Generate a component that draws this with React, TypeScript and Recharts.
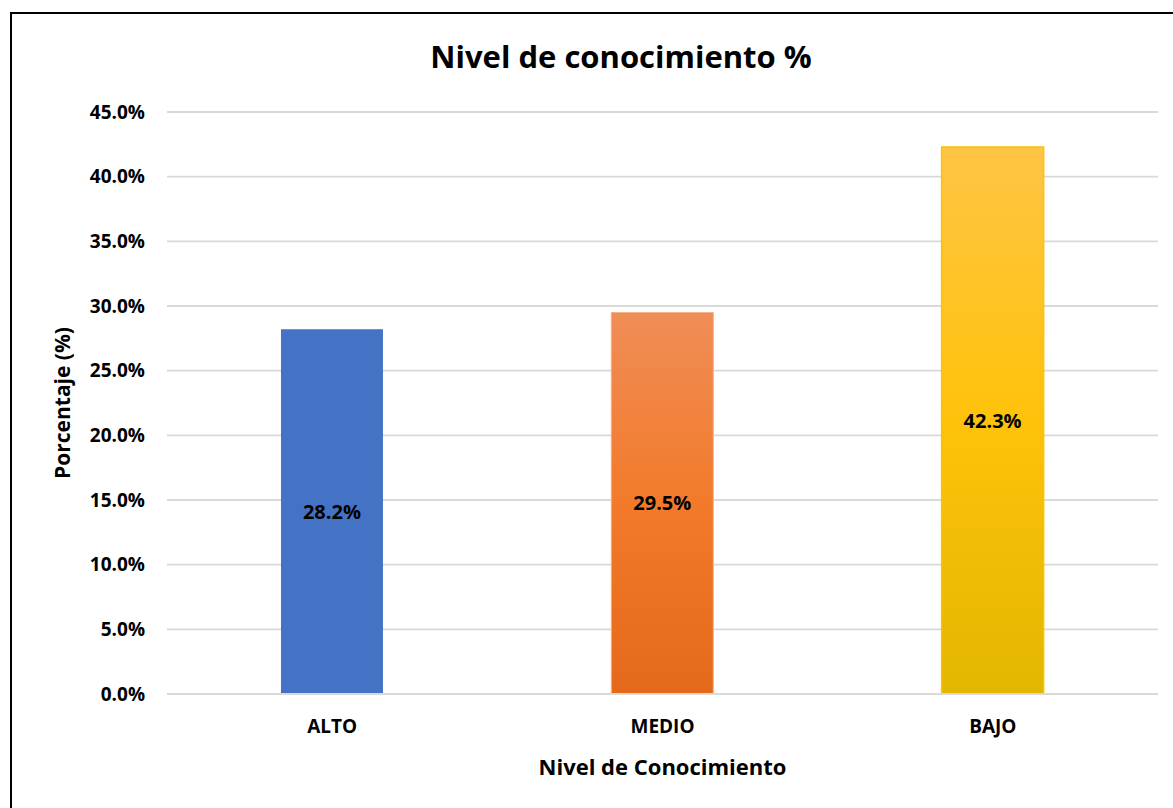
import { BarChart, Bar, XAxis, YAxis, CartesianGrid, Cell, LabelList, Label } from "recharts";

const categories = ["ALTO", "MEDIO", "BAJO"];
const percentages = [28.2, 29.5, 42.3];
const yTicks = [0, 5, 10, 15, 20, 25, 30, 35, 40, 45];

const data = categories.map((name, i) => ({ name, value: percentages[i] }));

const FONT = "'Open Sans', 'Noto Sans', sans-serif";

export default function App() {
  return (
    <div style={{ position: "absolute", left: 0, top: 0, width: 1173, height: 808, overflow: "hidden", background: "#fff", fontFamily: FONT }}>
      <div style={{ position: "absolute", left: 10, top: 12, width: 1200, height: 820, border: "2px solid #000", boxSizing: "border-box" }} />
      <div style={{ position: "absolute", left: 0, top: 35, width: 1242, textAlign: "center", fontSize: 31, fontWeight: 700, color: "#000" }}>
        Nivel de conocimiento %
      </div>
      <div style={{ position: "absolute", left: 0, top: 0 }}>
        <BarChart width={1173} height={808} data={data} margin={{ top: 112, right: 15, bottom: 74, left: 87 }} barCategoryGap="34.5%">
          <defs>
            <linearGradient id="gOrange" x1="0" y1="0" x2="0" y2="1">
              <stop offset="0%" stopColor="#F08D57" />
              <stop offset="50%" stopColor="#F27A2A" />
              <stop offset="100%" stopColor="#E5691A" />
            </linearGradient>
            <linearGradient id="gYellow" x1="0" y1="0" x2="0" y2="1">
              <stop offset="0%" stopColor="#FFC545" />
              <stop offset="50%" stopColor="#FFC20A" />
              <stop offset="100%" stopColor="#E2B700" />
            </linearGradient>
          </defs>
          <CartesianGrid vertical={false} stroke="#D9D9D9" strokeWidth={1.8} />
          <XAxis
            dataKey="name"
            axisLine={{ stroke: "#D9D9D9", strokeWidth: 1.8 }}
            tickLine={false}
            tickMargin={20}
            height={40}
            tick={{ fill: "#000", fontSize: 19, fontWeight: 700, fontFamily: FONT }}
          >
            <Label value="Nivel de Conocimiento" position="bottom" offset={25} style={{ fill: "#000", fontSize: 22, fontWeight: 700, fontFamily: FONT }} />
          </XAxis>
          <YAxis
            domain={[0, 45]}
            ticks={yTicks}
            width={80}
            axisLine={false}
            tickLine={false}
            tickMargin={16}
            tickFormatter={(v: number) => `${v.toFixed(1)}%`}
            tick={{ fill: "#000", fontSize: 19, fontWeight: 700, fontFamily: FONT }}
          >
            <Label value="Porcentaje (%)" angle={-90} position="insideLeft" offset={-24} style={{ textAnchor: "middle", fill: "#000", fontSize: 21, fontWeight: 700, fontFamily: FONT }} />
          </YAxis>
          <Bar dataKey="value" isAnimationActive={false}>
            <Cell fill="#4472C4" />
            <Cell fill="url(#gOrange)" stroke="#F4B183" strokeWidth={1} />
            <Cell fill="url(#gYellow)" stroke="#FFC000" strokeWidth={1.5} />
            <LabelList dataKey="value" position="center" formatter={(v: number) => `${v.toFixed(1)}%`} style={{ fill: "#000", fontSize: 20, fontWeight: 700, fontFamily: FONT }} />
          </Bar>
        </BarChart>
      </div>
    </div>
  );
}
